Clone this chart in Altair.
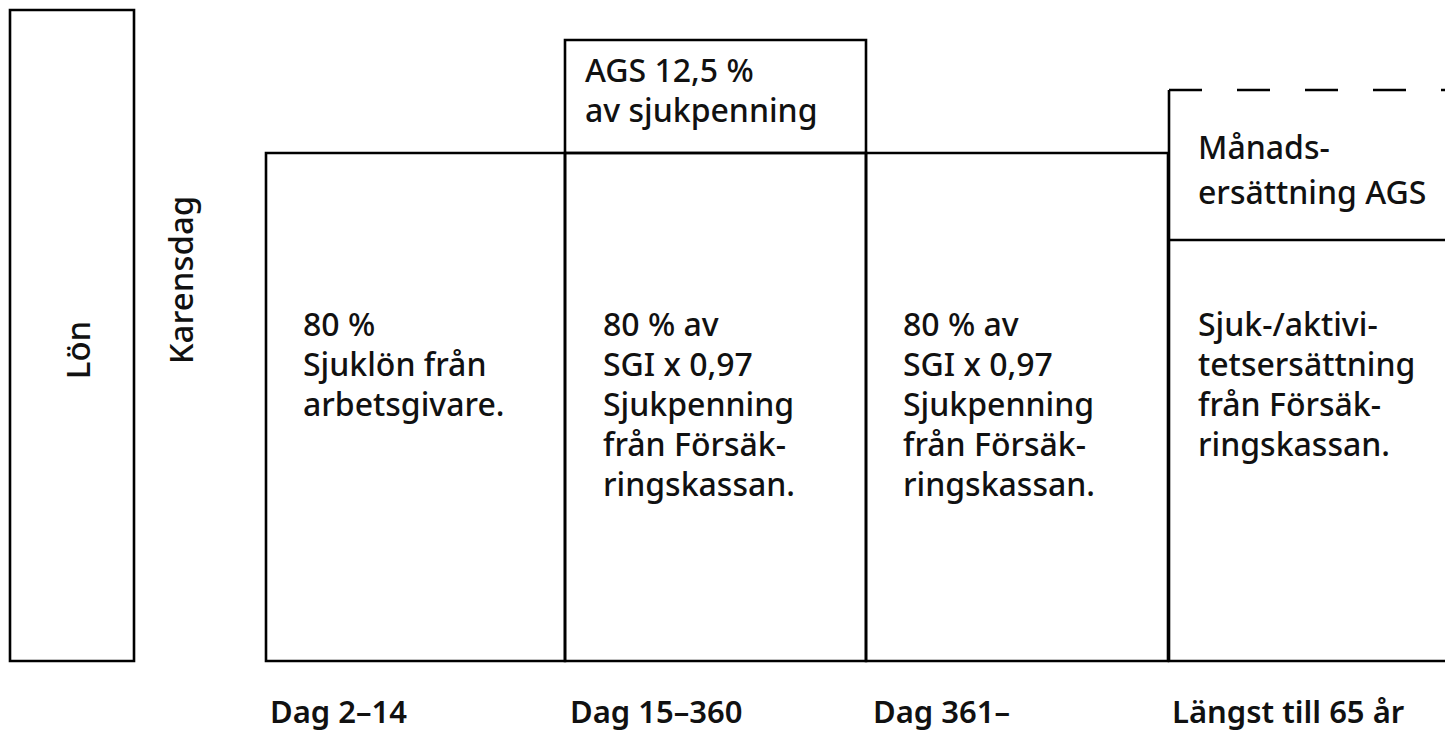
import altair as alt
import pandas as pd

# ---- Boxes (x in horizontal position units, y = height above the base line) ----
box_name = ["Lön", "Dag 2–14", "Dag 15–360", "AGS", "Dag 361–", "Längst till 65 år"]
box_x0 = [10, 266, 565, 565, 866, 1169]
box_x1 = [134, 565, 866, 866, 1168, 1480]
box_y0 = [0, 0, 0, 508, 0, 0]
box_y1 = [651, 508, 508, 621, 508, 421]

# Open-ended AGS monthly compensation part (left edge solid, top dashed)
side_x = [1169]
side_y0 = [421]
side_y1 = [571]
dash_x0 = [1169]
dash_x1 = [1480]
dash_y = [571]

# ---- Texts inside the boxes ----
main_text = [
    "80 %\nSjuklön från\narbetsgivare.",
    "80 % av\nSGI x 0,97\nSjukpenning\nfrån Försäk-\nringskassan.",
    "80 % av\nSGI x 0,97\nSjukpenning\nfrån Försäk-\nringskassan.",
    "Sjuk-/aktivi-\ntetsersättning\nfrån Försäk-\nringskassan.",
]
main_x = [303, 603, 903, 1198]
main_y = [325, 325, 325, 325]

ags_text = ["AGS 12,5 %\nav sjukpenning"]
ags_x = [585]
ags_y = [579]

month_text = ["Månads-\nersättning AGS"]
month_x = [1198]
month_y = [502]

# ---- Rotated labels ----
rot_text = ["Lön", "Karensdag"]
rot_x = [80, 183]
rot_y = [311, 381]

# ---- Period labels below ----
period_text = ["Dag 2–14", "Dag 15–360", "Dag 361–", "Längst till 65 år"]
period_x = [270, 570, 873, 1172]
period_y = [-62, -62, -62, -62]

FONT = "Noto Sans"
LW = 2.6

xs = alt.Scale(domain=[8, 1445], range=[0, 1437], nice=False, zero=False)
ys = alt.Scale(domain=[-77, 653], range=[730, 0], nice=False, zero=False)

X = lambda f: alt.X(f, scale=xs, axis=None)
Y = lambda f: alt.Y(f, scale=ys, axis=None)

boxes = pd.DataFrame({"name": box_name, "x0": box_x0, "x1": box_x1, "y0": box_y0, "y1": box_y1})
side = pd.DataFrame({"x": side_x, "y0": side_y0, "y1": side_y1})
dash = pd.DataFrame({"x0": dash_x0, "x1": dash_x1, "y": dash_y})
mains = pd.DataFrame({"t": main_text, "x": main_x, "y": main_y})
agss = pd.DataFrame({"t": ags_text, "x": ags_x, "y": ags_y})
months = pd.DataFrame({"t": month_text, "x": month_x, "y": month_y})
rots = pd.DataFrame({"t": rot_text, "x": rot_x, "y": rot_y})
periods = pd.DataFrame({"t": period_text, "x": period_x, "y": period_y})

rects = alt.Chart(boxes).mark_rect(
    fill="white", fillOpacity=0, stroke="black", strokeWidth=LW, clip=True
).encode(x=X("x0:Q"), x2="x1:Q", y=Y("y0:Q"), y2="y1:Q")

side_rule = alt.Chart(side).mark_rule(color="black", strokeWidth=LW).encode(
    x=X("x:Q"), y=Y("y0:Q"), y2="y1:Q"
)

dash_rule = alt.Chart(dash).mark_rule(
    color="black", strokeWidth=LW, strokeDash=[33, 35], clip=True
).encode(x=X("x0:Q"), x2="x1:Q", y=Y("y:Q"))


def block(df, lh):
    return alt.Chart(df).mark_text(
        align="left", baseline="alphabetic", font=FONT, fontSize=32, fontWeight=500,
        lineBreak="\n", lineHeight=lh, color="#111111"
    ).encode(x=X("x:Q"), y=Y("y:Q"), text="t:N")


main_txt = block(mains, 40)
ags_txt = block(agss, 40)
month_txt = block(months, 45)

rot_txt = alt.Chart(rots).mark_text(
    align="center", baseline="middle", angle=270, font=FONT, fontSize=33,
    fontWeight=500, color="#111111"
).encode(x=X("x:Q"), y=Y("y:Q"), text="t:N")

period_txt = alt.Chart(periods).mark_text(
    align="left", baseline="alphabetic", font=FONT, fontSize=31, fontWeight=600,
    color="#111111"
).encode(x=X("x:Q"), y=Y("y:Q"), text="t:N")

chart = alt.layer(
    rects, side_rule, dash_rule, main_txt, ags_txt, month_txt, rot_txt, period_txt
).properties(
    width=1437, height=730, autosize=alt.AutoSizeParams(type="none"), padding=0
).configure_view(stroke=None)

chart.save("out.html", embed_options={"renderer": "svg", "actions": False})
